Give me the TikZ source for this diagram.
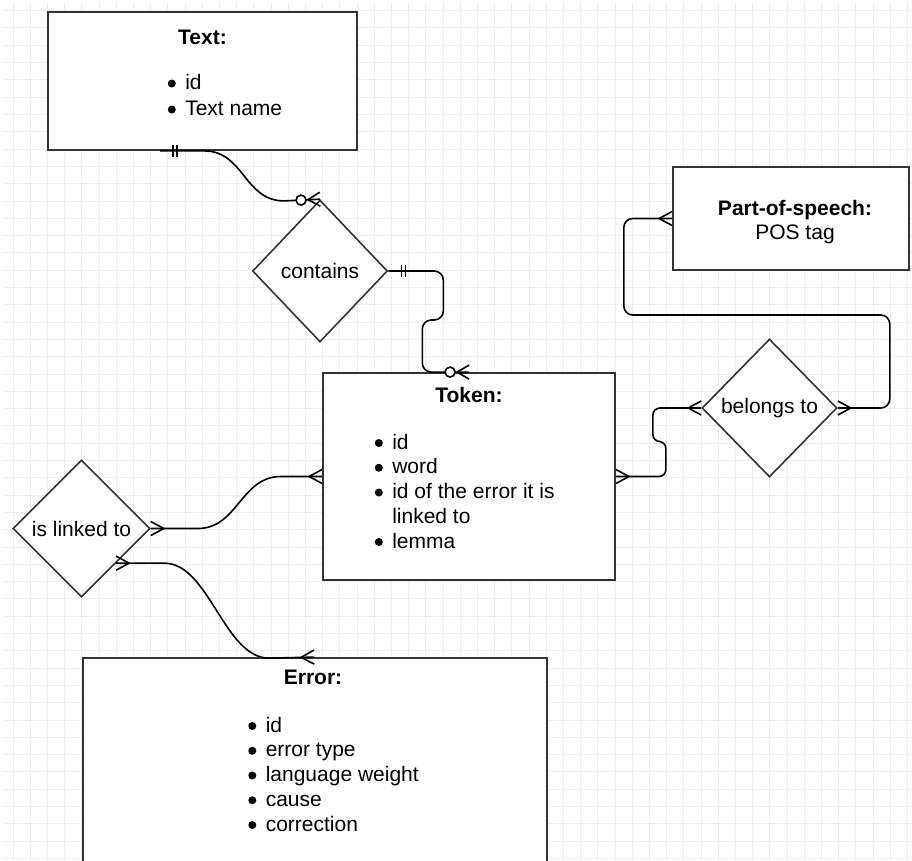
\documentclass[tikz,border=0pt]{standalone}
\usepackage{fontspec}
\setmainfont{Liberation Sans}
\usepackage{xcolor}
\usepackage{tikz}
\usetikzlibrary{positioning,shapes.geometric,decorations.markings,calc}

\definecolor{boxline}{HTML}{333333}
\definecolor{gridgray}{HTML}{EEEEEE}

\newcommand{\itm}[1]{\makebox[17.5pt][l]{\tikz[baseline=-6pt]\fill (4pt,0pt) circle (4pt);}#1}

\begin{document}
\begin{tikzpicture}[
  x=1pt, y=-1pt,
  txt/.style={font=\fontsize{21}{24.75}\selectfont,inner sep=0pt},
  entity/.style={rectangle,draw=boxline,line width=1.8pt,fill=white,inner sep=0pt,align=center,font=\fontsize{21}{24.75}\selectfont},
  rel/.style={diamond,draw=boxline,line width=1.6pt,fill=white,inner sep=0pt,font=\fontsize{21}{24.75}\selectfont},
  title/.style={txt,font=\fontsize{21}{24.75}\selectfont\bfseries},
  list/.style={txt,align=left},
  gridline/.style={gridgray,line width=1pt},
  conn/.style={line width=1.6pt,black},
  crowend/.style={postaction={decorate,decoration={markings,
    mark=at position 1 with {\draw[conn] (-13pt,0pt) -- (0pt,7pt) (-13pt,0pt) -- (0pt,-7pt);}}}},
  crowstart/.style={postaction={decorate,decoration={markings,
    mark=at position 0 with {\draw[conn] (13pt,0pt) -- (0pt,7pt) (13pt,0pt) -- (0pt,-7pt);}}}},
  zmanyend/.style={postaction={decorate,decoration={markings,
    mark=at position 1 with {\draw[conn] (-12pt,0pt) -- (0pt,7pt) (-12pt,0pt) -- (0pt,-7pt);
      \draw[conn,fill=white] (-19pt,0pt) circle (5pt);}}}},
  onestart/.style={postaction={decorate,decoration={markings,
    mark=at position 0 with {\draw[conn] (13pt,-6pt) -- (13pt,6pt) (17pt,-6pt) -- (17pt,6pt);}}}}
]
\clip (0,0) rectangle (912,861);
\fill[white] (0,0) rectangle (912,861);

% grid
\foreach \gx in {0,...,52} \draw[gridline] (13+17.2*\gx,3) -- ++(0,858);
\foreach \gy in {-1,...,49} \draw[gridline] (4,28+17.3*\gy) -- ++(908,0);

% entities
\node[entity,minimum width=309pt,minimum height=138pt] (textbox) at (202.5,81) {};
\node[title,below=18.5pt of textbox.north] (texttitle) {Text:};
\node[list,below right=63pt and 120.5pt of textbox.north west,font=\fontsize{21}{26}\selectfont] (textlist) {\itm{id}\\\itm{Text name}};

\node[entity,minimum width=292pt,minimum height=207pt] (token) at (469,476.5) {};
\node[title,below=14.5pt of token.north] (tokentitle) {Token:};
\node[list,below right=61.5pt and 52.5pt of token.north west] (tokenlist) {\itm{id}\\\itm{word}\\\itm{id of the error it is}\\\hspace*{17.5pt}linked to\\\itm{lemma}};

\node[entity,minimum width=236pt,minimum height=103pt] (pos) at (791,218.5) {};
\node[txt,align=center] (postext) at ($(pos.center)+(4,3.5)$) {\textbf{Part-of-speech:}\\POS tag};

\node[entity,minimum width=464pt,minimum height=230pt] (error) at (315,773) {};
\node[title,below=12.5pt of error.north,xshift=-2pt] (errortitle) {Error:};
\node[list,below right=59.5pt and 166pt of error.north west] (errorlist) {\itm{id}\\\itm{error type}\\\itm{language weight}\\\itm{cause}\\\itm{correction}};

% relationships
\node[rel,minimum width=135pt,minimum height=142pt] (contains) at (320,271) {contains};
\node[rel,minimum width=135pt,minimum height=138pt] (belongs) at (769.5,408) {belongs to};
\node[rel,minimum width=137pt,minimum height=137pt] (islinked) at (81.5,528.5) {is linked to};

% connectors
\draw[conn,onestart,zmanyend] ($(textbox.south west)+(113,0)$) -- ++(44,0)
  .. controls +(40,0) and +(-40,0) .. ++(80,50) -- (contains.north);
\draw[conn,rounded corners=9pt,onestart,zmanyend] (contains.east) -- ++(55,0) -- ++(0,49)
  -- ++(-21,0) |- ($(token.north west)+(147,0)$);
\draw[conn,rounded corners=7pt,crowstart,crowend] (token.east) -- ++(50,0) -- ++(0,-35)
  -- ++(-13,0) |- (belongs.west);
\draw[conn,rounded corners=9pt,crowstart,crowend] (belongs.east) -- ++(52,0) -- ++(0,-93)
  -- ++(-266,0) |- (pos.west);
\draw[conn,crowstart,crowend] (islinked.east) -- ++(47,0)
  .. controls +(40,0) and +(-40,0) .. ++(83,-52) -- (token.west);
\draw[conn,crowstart,crowend] (islinked.south east) -- ++(48,0)
  .. controls +(45,0) and +(-45,0) .. ++(105,95) -- ($(error.north west)+(232,0)$);
\end{tikzpicture}
\end{document}
